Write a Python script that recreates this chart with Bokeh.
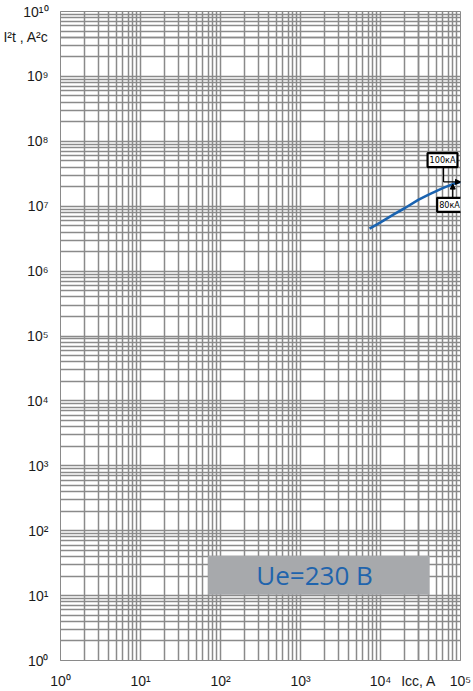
import numpy as np
from bokeh.plotting import figure
from bokeh.models import FixedTicker, Label, BoxAnnotation, Arrow, NormalHead, Range1d
from bokeh.embed import file_html
from bokeh.resources import INLINE

# data
icc = [7300, 10000, 15000, 20000, 30000, 40000, 60000, 80000, 100000]
i2t = [4.5e6, 5.65e6, 7.6e6, 9.3e6, 1.26e7, 1.51e7, 1.9e7, 2.19e7, 2.37e7]
x_decades = [1, 10, 100, 1000, 10000, 100000]
y_decades = [10.0 ** k for k in range(0, 11)]
x_minor = [m * d for d in x_decades[:-1] for m in range(2, 10)]
y_minor = [m * d for d in y_decades[:-1] for m in range(2, 10)]
sup = str.maketrans("0123456789", "⁰¹²³⁴⁵⁶⁷⁸⁹")
x_labels = {d: "10" + str(int(np.log10(d))).translate(sup) for d in x_decades}
y_labels = {d: "10" + str(int(round(np.log10(d)))).translate(sup) for d in y_decades}
x_title, x_title_at = "Icc, A", 3e4
y_title, y_title_at = "I²t , A²c", 4e9
x_labels[x_title_at] = x_title
y_labels[y_title_at] = y_title

FONT = "Liberation Sans"
GRID = "#8a8a8a"

p = figure(width=473, height=691, x_axis_type="log", y_axis_type="log",
           x_range=Range1d(1, 1e5), y_range=Range1d(1, 1e10),
           output_backend="svg", toolbar_location=None,
           min_border_left=60, min_border_right=13, min_border_top=11, min_border_bottom=29)
p.outline_line_color = GRID
p.background_fill_color = "white"

p.xaxis.ticker = FixedTicker(ticks=x_decades + [x_title_at], minor_ticks=x_minor)
p.yaxis.ticker = FixedTicker(ticks=y_decades + [y_title_at], minor_ticks=y_minor)
p.xaxis.major_label_overrides = x_labels
p.yaxis.major_label_overrides = y_labels
for ax in (p.xaxis, p.yaxis):
    ax.axis_line_color = GRID
    ax.major_tick_line_color = None
    ax.minor_tick_line_color = None
    ax.major_label_text_font = FONT
    ax.major_label_text_font_size = "14px"
    ax.major_label_text_color = "#1a1a1a"
    ax.major_label_standoff = 6

for g in (p.xgrid, p.ygrid):
    g.grid_line_color = GRID
    g.grid_line_width = 1.5
    g.minor_grid_line_color = GRID
    g.minor_grid_line_width = 1.5

# gray box with voltage text
box = BoxAnnotation(left=70, right=4.1e4, bottom=10.3, top=41,
                    fill_color="#a7a9ac", fill_alpha=1, line_color=None)
p.add_layout(box)
p.add_layout(Label(x=1500, y=21, text="Ue=230 B", text_align="center", text_baseline="middle",
                   text_font="Open Sans", text_font_size="26px", text_color="#1f64ad"))

# curve
p.line(icc, i2t, line_color="#1a63b0", line_width=2.6)

# annotations for 100 kA and 80 kA
y100 = i2t[-1]
y80 = i2t[-2]
p.add_layout(Arrow(x_start=61400, y_start=3.87e7, x_end=61400, y_end=y100,
                   line_color="black", line_width=1.2, end=None))
p.add_layout(Arrow(x_start=61400, y_start=y100, x_end=icc[-1], y_end=y100,
                   line_color="black", line_width=1.2,
                   end=NormalHead(size=5, fill_color="black", line_color="black")))
p.add_layout(Arrow(x_start=icc[-2], y_start=1.34e7, x_end=icc[-2], y_end=y80,
                   line_color="black", line_width=1.2,
                   end=NormalHead(size=5, fill_color="black", line_color="black")))
for txt, x, y in (("100кА", 59600, 5.14e7), ("80кА", 72900, 1.05e7)):
    p.add_layout(Label(x=x, y=y, text=txt, text_align="center", text_baseline="middle",
                       text_font="'DejaVu Sans Condensed', 'Liberation Sans'", text_font_size="9px",
                       text_color="black",
                       background_fill_color="white", border_line_color="black",
                       border_line_width=2.2, padding=2))

open("out.html", "w").write(file_html(p, INLINE))
